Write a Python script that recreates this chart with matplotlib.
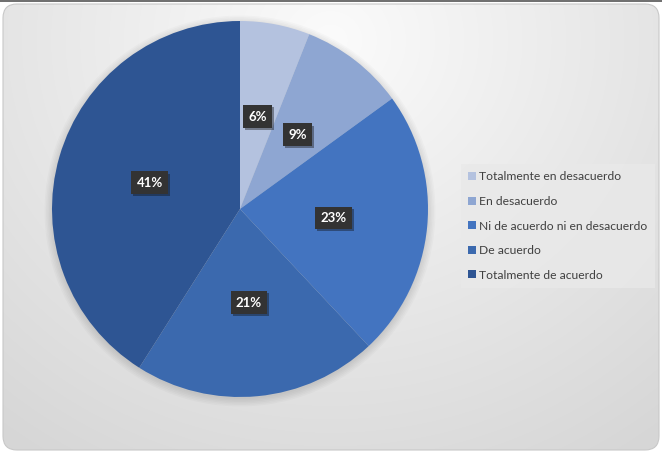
import numpy as np
import matplotlib
matplotlib.use("Agg")
import matplotlib.pyplot as plt
import matplotlib.patheffects as pe
from matplotlib.patches import FancyBboxPatch, Patch

plt.rcParams['font.family'] = ['Lato', 'DejaVu Sans']

# data
categories = ["Totalmente en desacuerdo", "En desacuerdo",
              "Ni de acuerdo ni en desacuerdo", "De acuerdo",
              "Totalmente de acuerdo"]
values = [6, 9, 23, 21, 41]
colors = ["#b4c2df", "#8ea6d2", "#4374c0", "#3b69ae", "#2e5593"]

W, H = 662, 454
fig = plt.figure(figsize=(W / 100, H / 100), dpi=100)

# background: rounded panel with soft radial gradient
bg = fig.add_axes([0, 0, 1, 1])
bg.set_xlim(0, W)
bg.set_ylim(H, 0)
bg.axis('off')
yy, xx = np.mgrid[0:H, 0:W]
d = np.hypot((xx - 330) / 520, (yy - 40) / 480)
g = np.clip(0.985 - 0.14 * d, 0.84, 0.99)
im = bg.imshow(np.dstack([g, g, g]), extent=(0, W, H, 0), zorder=0)
panel = FancyBboxPatch((3, 4), W - 6, H - 8, boxstyle="round,pad=0,rounding_size=14",
                       fc="none", ec="#c8c8c8", lw=0.8, zorder=1)
bg.add_patch(panel)
im.set_clip_path(panel)
bg.plot([0, W], [1, 1], color="#555555", lw=1.2, zorder=2)

# soft shadow behind the pie
for k in range(6):
    bg.add_patch(plt.Circle((240, 211), 188 + 1.5 * k, color="#000000", alpha=0.02, lw=0, zorder=1))

ax = fig.add_axes([52 / W, 1 - 397 / H, 376 / W, 376 / H])
wedges, texts, autotexts = ax.pie(values, colors=colors, startangle=90, counterclock=False,
                                  autopct='%1.0f%%', pctdistance=0.5,
                                  wedgeprops=dict(linewidth=0))
ax.set_xlim(-1, 1)
ax.set_ylim(-1, 1)
ax.set_aspect('equal')
for t in autotexts:
    t.set_color('white')
    t.set_fontweight('bold')
    t.set_fontsize(9.5)
    t.set_bbox(dict(boxstyle='square,pad=0.4', fc='#333333', ec='none'))
    t.get_bbox_patch().set_path_effects([pe.withSimplePatchShadow(offset=(1.5, -1.5), alpha=0.4)])

handles = [Patch(facecolor=c, edgecolor='none') for c in colors]
leg = fig.legend(handles, categories, loc='center left', bbox_to_anchor=(455 / W, 1 - 226 / H),
                 frameon=True, fontsize=8.7, handlelength=0.6, handleheight=0.6,
                 handletextpad=0.3, labelspacing=1.12, borderpad=0.6, fancybox=False)
leg.get_frame().set_facecolor('#e9e9e9')
leg.get_frame().set_edgecolor('none')
for t in leg.get_texts():
    t.set_color('#404040')

fig.savefig("out.png", dpi=100)
